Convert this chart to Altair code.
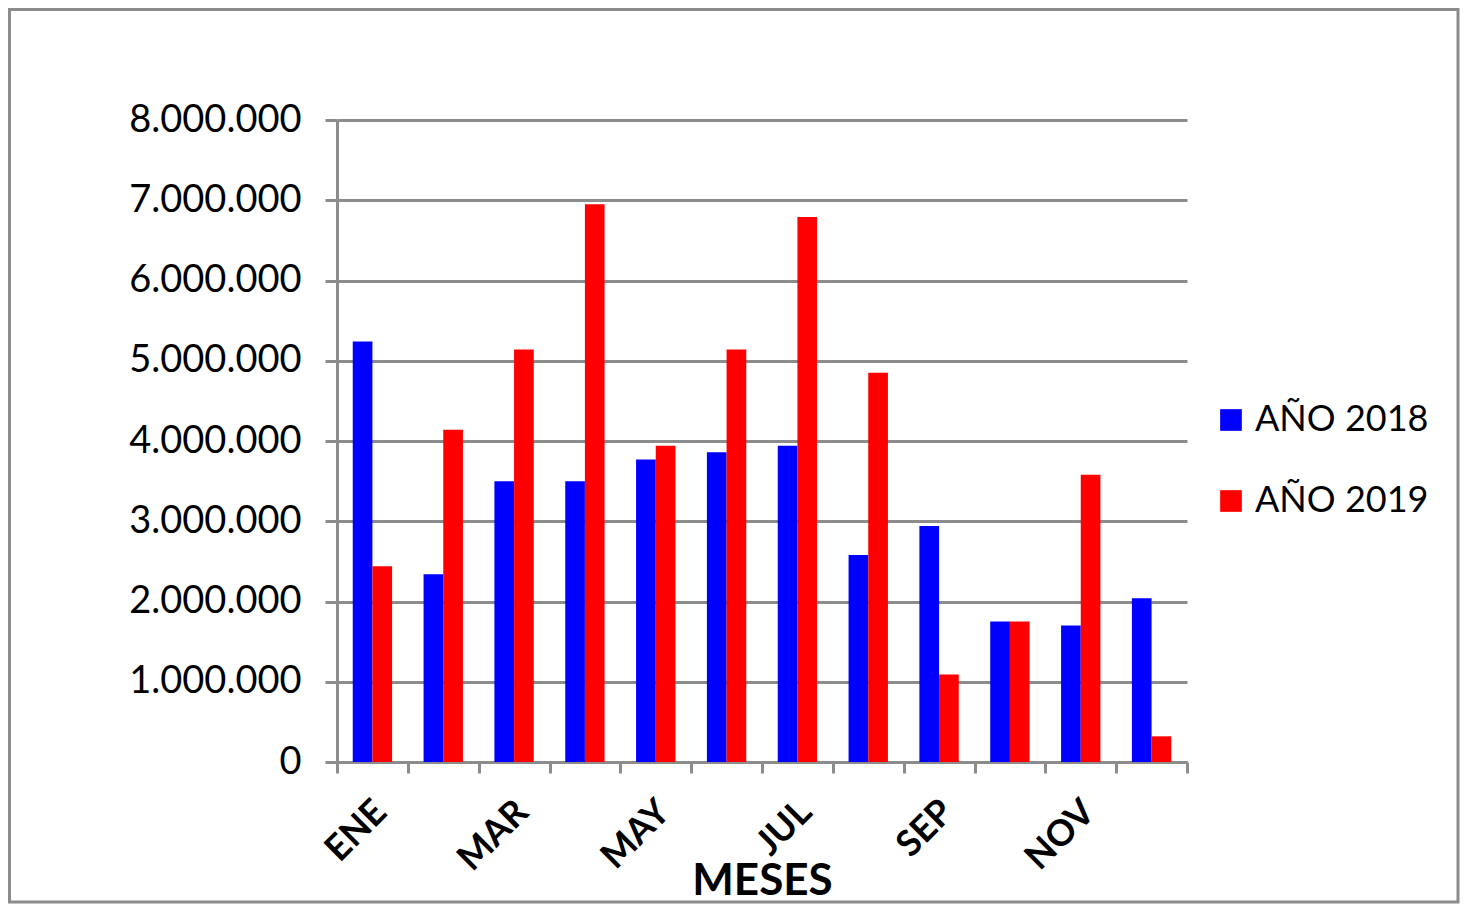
import altair as alt
import pandas as pd

meses = ["ENE", "FEB", "MAR", "ABR", "MAY", "JUN", "JUL", "AGO", "SEP", "OCT", "NOV", "DIC"]
anio_2018 = [5240000, 2340000, 3500000, 3500000, 3770000, 3860000, 3940000, 2580000, 2940000, 1750000, 1700000, 2040000]
anio_2019 = [2440000, 4140000, 5140000, 6950000, 3940000, 5140000, 6790000, 4850000, 1090000, 1750000, 3580000, 320000]
series = ["AÑO 2018", "AÑO 2019"]
colores = ["#0000ff", "#ff0000"]
etiquetas_x = ["ENE", "MAR", "MAY", "JUL", "SEP", "NOV"]
ticks_y = [0, 1000000, 2000000, 3000000, 4000000, 5000000, 6000000, 7000000, 8000000]

rows = []
for i, m in enumerate(meses):
    rows.append({"mes": m, "serie": series[0], "valor": anio_2018[i]})
    rows.append({"mes": m, "serie": series[1], "valor": anio_2019[i]})
df = pd.DataFrame(rows)

FONT = "Lato"
GRAY = "#8c8c8c"

lista_js = "[" + ",".join("'" + e + "'" for e in etiquetas_x) + "]"

border = alt.Chart(alt.Data(values=[{"a": 1}])).mark_rect(
    fill="transparent", stroke=GRAY, strokeWidth=3
).encode(
    x=alt.value(-327.5), x2=alt.value(1121), y=alt.value(-110.5), y2=alt.value(782)
)

bars = alt.Chart(df).mark_bar().encode(
    x=alt.X(
        "mes:N", sort=meses,
        scale=alt.Scale(paddingInner=0, paddingOuter=0),
        axis=alt.Axis(
            title="MESES", labelAngle=-45, labelAlign="right", labelBaseline="top",
            labelExpr=f"indexof({lista_js}, datum.value) >= 0 ? datum.value : ''",
            tickBand="extent", labelFontSize=36, labelFontWeight="bold", labelFont=FONT,
            labelColor="#000000", labelPadding=21, labelOffset=-4,
            domainColor=GRAY, domainWidth=3, tickColor=GRAY, tickWidth=3, tickSize=11,
            grid=False, titleFont=FONT, titleFontSize=44, titleFontWeight="bold",
            titleColor="#000000", titlePadding=0, titleY=132, titleBaseline="alphabetic",
        ),
    ),
    xOffset=alt.XOffset("serie:N", sort=series, scale=alt.Scale(paddingInner=0, paddingOuter=0.8)),
    y=alt.Y(
        "valor:Q",
        scale=alt.Scale(domain=[0, 8000000], nice=False),
        axis=alt.Axis(
            title=None, values=ticks_y,
            labelExpr="replace(format(datum.value, ','), regexp(',', 'g'), '.')",
            labelFont=FONT, labelFontSize=38, labelColor="#000000", labelPadding=24,
            domainColor=GRAY, domainWidth=3, tickColor=GRAY, tickWidth=3, tickSize=12,
            grid=True, gridColor=GRAY, gridWidth=3,
        ),
    ),
    color=alt.Color(
        "serie:N",
        scale=alt.Scale(domain=series, range=colores),
        legend=alt.Legend(
            title=None, orient="none", legendX=876, legendY=282,
            symbolType="square", symbolSize=470, symbolStrokeWidth=0,
            labelFont=FONT, labelFontSize=36, labelColor="#000000", labelLimit=400,
            labelOffset=6, rowPadding=45,
        ),
    ),
)

chart = alt.layer(border, bars).properties(
    width=850, height=642, padding=0
).configure_view(strokeWidth=0)

chart.save("out.html", embed_options={"renderer": "svg", "actions": False})
